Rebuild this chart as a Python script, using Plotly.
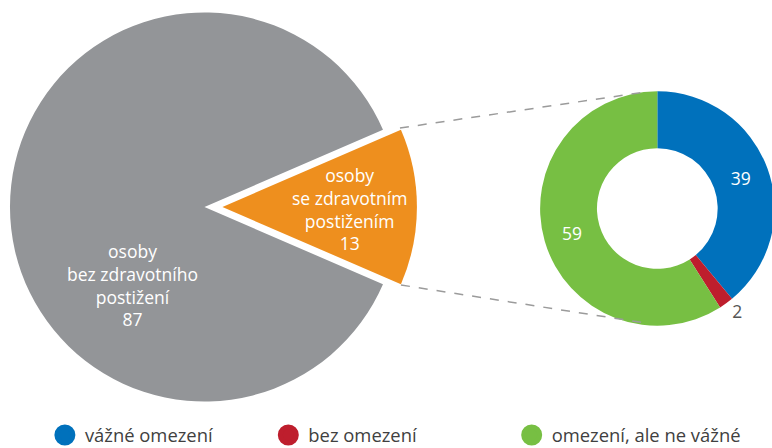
import plotly.graph_objects as go

# The reference is a crop of a slightly larger chart (donut is cut at the
# right edge), so the figure is drawn a bit larger than the 772x448 window
# and the overflow is hidden.
W, H = 780, 460

# ---- data ----
main_labels = ["osoby se zdravotním postižením", "osoby bez zdravotního postižení"]
main_label_lines = [["osoby", "se zdravotním", "postižením"], ["osoby", "bez zdravotního", "postižení"]]
main_values = [13, 87]
main_colors = ["#EE8F1E", "#939598"]

sub_labels = ["vážné omezení", "bez omezení", "omezení, ale ne vážné"]
sub_values = [39, 2, 59]
sub_colors = ["#0071BC", "#BE1E2D", "#77BF43"]

FONT = "Open Sans"
TRANSP = "rgba(0,0,0,0)"


def px_x(x):
    return x / W


def px_y(y):
    return 1 - y / H


fig = go.Figure()

# main pie: share of orange slice sets rotation so it is centred at 3 o'clock
orange_share = main_values[0] / sum(main_values)
rotation = 90 - orange_share * 360 / 2

r = 195
gray_cx, cy = 205, 207
orange_cx = 223

# gray part (orange slice transparent)
fig.add_trace(go.Pie(
    values=main_values, labels=main_labels, sort=False, direction="clockwise",
    rotation=rotation, textinfo="none", showlegend=False, hoverinfo="label+value",
    marker=dict(colors=[TRANSP, main_colors[1]], line=dict(width=0)),
    domain=dict(x=[px_x(gray_cx - r), px_x(gray_cx + r)], y=[px_y(cy + r), px_y(cy - r)]),
))
# pulled-out orange part (gray slice transparent)
fig.add_trace(go.Pie(
    values=main_values, labels=main_labels, sort=False, direction="clockwise",
    rotation=rotation, textinfo="none", showlegend=False, hoverinfo="label+value",
    marker=dict(colors=[main_colors[0], TRANSP], line=dict(width=0)),
    domain=dict(x=[px_x(orange_cx - r), px_x(orange_cx + r)], y=[px_y(cy + r), px_y(cy - r)]),
))

# donut
dcx, dcy, dr = 659, 208.5, 117.5
fig.add_trace(go.Pie(
    values=sub_values, labels=sub_labels, sort=False, direction="clockwise",
    rotation=0, hole=0.515, showlegend=False,
    textinfo="value", textposition=["inside", "outside", "inside"],
    insidetextorientation="horizontal",
    insidetextfont=dict(family=FONT, size=17.5, color="white"),
    outsidetextfont=dict(family=FONT, size=17.5, color="#555555"),
    marker=dict(colors=sub_colors, line=dict(width=0)),
    domain=dict(x=[px_x(dcx - dr), px_x(dcx + dr)], y=[px_y(dcy + dr), px_y(dcy - dr)]),
))

# legend entries as circle markers, each in its own legend
legend_pos = [45, 269, 513]
for i, (lab, col) in enumerate(zip(sub_labels, sub_colors)):
    lname = "legend" if i == 0 else f"legend{i+1}"
    fig.add_trace(go.Scatter(
        x=[None], y=[None], mode="markers", name=lab,
        marker=dict(symbol="circle", size=16, color=col, line=dict(color=col, width=5)),
        legend=lname, showlegend=True,
    ))

legend_common = dict(
    orientation="h", yanchor="middle", xanchor="left", y=px_y(435),
    font=dict(family=FONT, size=18.4, color="#404040"), bgcolor=TRANSP,
    itemsizing="trace",
)

# labels inside main pie
annotations = []
label_centers = [(350, 208.5), (133, 284.5)]
for lines, val, (ax, ay) in zip(main_label_lines, main_values, label_centers):
    annotations.append(dict(
        text="<br>".join(lines + [str(val)]), x=px_x(ax), y=px_y(ay),
        xref="paper", yref="paper", xanchor="center", yanchor="middle",
        showarrow=False, align="center",
        font=dict(family=FONT, size=17.5, color="white"),
    ))

# dashed connector lines from pulled slice to donut
shapes = [
    dict(type="line", xref="paper", yref="paper",
         x0=px_x(401), y0=px_y(128), x1=px_x(647), y1=px_y(92),
         line=dict(color="#9B9B9B", width=1.5, dash="dash")),
    dict(type="line", xref="paper", yref="paper",
         x0=px_x(402), y0=px_y(285), x1=px_x(647), y1=px_y(323),
         line=dict(color="#9B9B9B", width=1.5, dash="dash")),
]

fig.update_layout(
    width=W, height=H, margin=dict(l=0, r=0, t=0, b=0),
    paper_bgcolor="white", plot_bgcolor="white",
    xaxis=dict(visible=False), yaxis=dict(visible=False),
    legend=dict(x=px_x(legend_pos[0]), **legend_common),
    legend2=dict(x=px_x(legend_pos[1]), **legend_common),
    legend3=dict(x=px_x(legend_pos[2]), **legend_common),
    annotations=annotations, shapes=shapes,
    font=dict(family=FONT),
)

fig.write_html(
    "out.html",
    config={"displayModeBar": False},
    post_script="document.documentElement.style.overflow='hidden';document.body.style.margin='0';document.body.style.overflow='hidden';",
)
